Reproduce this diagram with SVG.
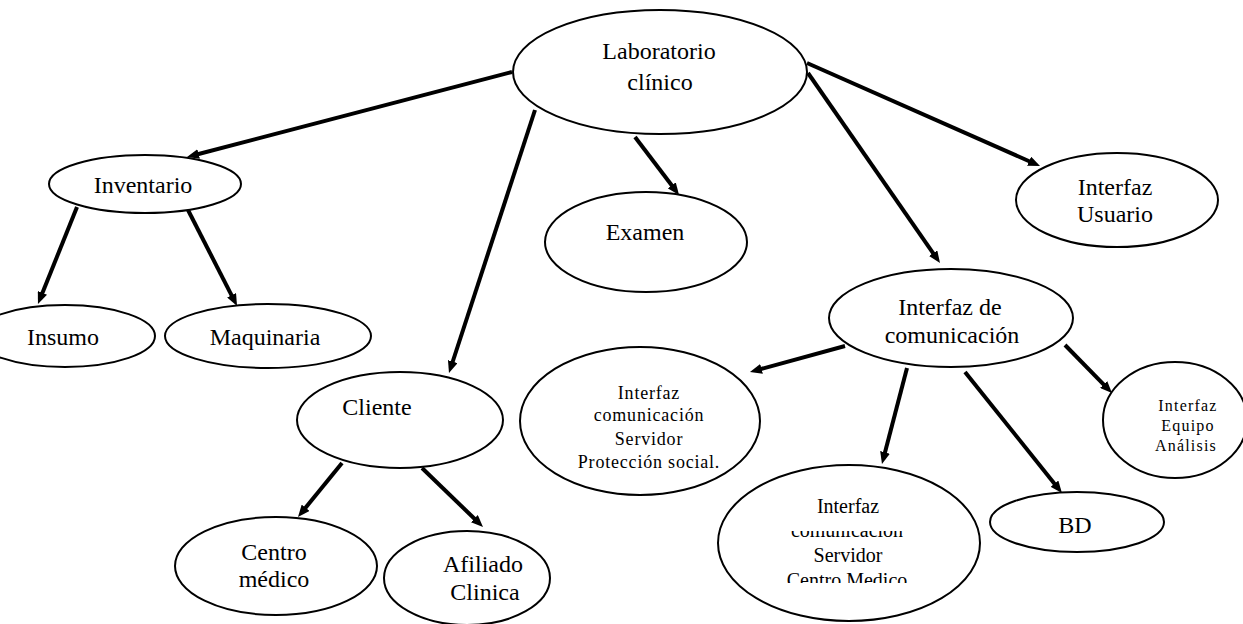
<svg xmlns="http://www.w3.org/2000/svg" width="1243" height="624" viewBox="0 0 1243 624">
<style>
.n{fill:#fff;stroke:#000;stroke-width:2}
.t{font-family:"Liberation Serif","Times New Roman",serif;font-size:24px;fill:#000;text-anchor:middle}
.s{font-family:"Liberation Serif","Times New Roman",serif;font-size:20px;fill:#000;text-anchor:middle}
.p{font-family:"Liberation Serif","Times New Roman",serif;font-size:18px;letter-spacing:0.8px;fill:#000;text-anchor:middle}
.q{font-family:"Liberation Serif","Times New Roman",serif;font-size:16px;letter-spacing:1.2px;fill:#000;text-anchor:middle}
.c{fill:none;stroke:#000;stroke-width:4;marker-end:url(#ah)}
</style>
<defs>
<marker id="ah" viewBox="0 0 12 10" refX="2" refY="5" markerWidth="12" markerHeight="10" markerUnits="userSpaceOnUse" orient="auto"><path d="M0,0 L12,5 L0,10 z" fill="#000"/></marker>
<clipPath id="clipCM"><rect x="700" y="490" width="300" height="27"/><rect x="700" y="531" width="300" height="52"/></clipPath>
<clipPath id="clipEQ"><rect x="1100" y="390" width="119" height="80"/></clipPath>
</defs>
<rect width="1243" height="624" fill="#fff"/>

<g id="lab"><ellipse class="n" cx="660" cy="72" rx="147" ry="62"/><text class="t" x="659" y="59">Laboratorio</text><text class="t" x="660" y="90">clínico</text></g>
<g id="inventario"><ellipse class="n" cx="145" cy="184" rx="96" ry="29"/><text class="t" x="143" y="193">Inventario</text></g>
<g id="insumo"><ellipse class="n" cx="65" cy="336" rx="90" ry="31"/><text class="t" x="63" y="345">Insumo</text></g>
<g id="maquinaria"><ellipse class="n" cx="268" cy="336" rx="103" ry="32"/><text class="t" x="265" y="345">Maquinaria</text></g>
<g id="cliente"><ellipse class="n" cx="400" cy="420" rx="103" ry="48"/><text class="t" x="377" y="415">Cliente</text></g>
<g id="centro"><ellipse class="n" cx="276" cy="566" rx="101" ry="49"/><text class="t" x="274" y="560">Centro</text><text class="t" x="274" y="587">médico</text></g>
<g id="afiliado"><ellipse class="n" cx="467" cy="578" rx="83" ry="47"/><text class="t" x="483" y="572">Afiliado</text><text class="t" x="485" y="600">Clinica</text></g>
<g id="examen"><ellipse class="n" cx="646" cy="242" rx="101" ry="50"/><text class="t" x="645" y="240">Examen</text></g>
<g id="usuario"><ellipse class="n" cx="1117" cy="200" rx="101" ry="47"/><text class="t" x="1115" y="195">Interfaz</text><text class="t" x="1115" y="222">Usuario</text></g>
<g id="comunicacion"><ellipse class="n" cx="951" cy="318" rx="122" ry="49"/><text class="t" x="950" y="315">Interfaz de</text><text class="t" x="952" y="343">comunicación</text></g>
<g id="proteccion"><ellipse class="n" cx="640" cy="421" rx="120" ry="74"/><text class="p" x="649" y="399">Interfaz</text><text class="p" x="649" y="421">comunicación</text><text class="p" x="649" y="445">Servidor</text><text class="p" x="649" y="468">Protección social.</text></g>
<g id="centromedico"><ellipse class="n" cx="849" cy="543" rx="131" ry="78"/><g clip-path="url(#clipCM)"><text class="s" x="848" y="513">Interfaz</text><text class="s" x="847" y="537">comunicación</text><text class="s" x="848" y="562">Servidor</text><text class="s" x="847" y="587">Centro Medico</text></g></g>
<g id="bd"><ellipse class="n" cx="1077" cy="522" rx="87" ry="30"/><text class="t" x="1075" y="533">BD</text></g>
<g id="equipo"><ellipse class="n" cx="1175" cy="420" rx="72" ry="58"/><g clip-path="url(#clipEQ)"><text class="q" x="1188" y="411">Interfaz</text><text class="q" x="1188" y="431">Equipo</text><text class="q" x="1186" y="451">Análisis</text></g></g>

<g id="connectors">
<path class="c" d="M512,72 L196.7,154.5"/>
<path class="c" d="M535,110 L452.1,363.5"/>
<path class="c" d="M635,137 L673,187"/>
<path class="c" d="M807,63 L1030.9,162"/>
<path class="c" d="M808,73 L934.3,254.8"/>
<path class="c" d="M77,207 L41.7,294.7"/>
<path class="c" d="M188,210 L232.5,297.1"/>
<path class="c" d="M342,463 L304.3,509.3"/>
<path class="c" d="M422,468 L475.8,520"/>
<path class="c" d="M845,346 L759.6,369.4"/>
<path class="c" d="M907,368 L884.5,454.3"/>
<path class="c" d="M965,372 L1055.7,485.2"/>
<path class="c" d="M1065,345 L1105,385.9"/>
</g>
</svg>
